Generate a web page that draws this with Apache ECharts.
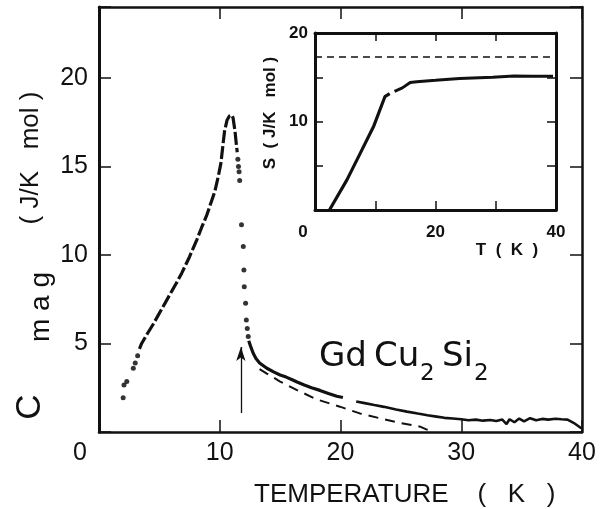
<!DOCTYPE html>
<html>
<head>
<meta charset="utf-8">
<script src="https://cdn.jsdelivr.net/npm/echarts@6/dist/echarts.min.js"></script>
<style>
  html, body { margin: 0; padding: 0; background: #fff; }
  #chart { width: 607px; height: 509px; }
</style>
</head>
<body>
<div id="chart"></div>
<script>
// Magnetic specific heat of GdCu2Si2 versus temperature, with the magnetic entropy in the inset.

// Main panel: C_mag (J/K mol) against T (K)
const lowTDots = [[2.0, 1.94], [2.07, 2.65], [2.3, 2.85], [2.84, 3.6], [3.0, 3.9], [3.2, 4.3]];
const risingBranch = [[3.35, 4.7], [3.53, 5.0], [4.0, 5.55], [4.5, 6.1], [5.2, 6.95], [5.9, 7.8], [6.4, 8.4],
  [6.85, 8.97], [7.5, 9.9], [8.1, 10.85], [8.5, 11.55], [8.9, 12.2], [9.3, 13.0], [9.6, 13.6], [9.9, 14.5],
  [10.1, 15.2], [10.28, 16.3], [10.4, 17.0], [10.6, 17.6], [10.8, 17.85], [10.98, 17.9], [11.1, 17.75],
  [11.26, 17.0], [11.38, 16.2], [11.45, 15.8]];
const transitionDots = [[11.5, 15.4], [11.55, 15.0], [11.6, 14.7], [11.65, 14.2], [11.8, 11.7], [11.95, 10.47],
  [12.0, 9.15], [12.03, 8.2], [12.14, 7.27], [12.2, 6.33], [12.28, 5.85], [12.36, 5.4]];
const tailLow = [[12.4, 5.15], [12.55, 4.85], [12.77, 4.45], [13.0, 4.15], [13.3, 3.9], [13.9, 3.6], [14.5, 3.38],
  [15.0, 3.22], [15.5, 3.1], [16.0, 2.95], [16.4, 2.82], [17.0, 2.65], [17.6, 2.5], [18.3, 2.35], [19.0, 2.18],
  [19.7, 2.02], [20.2, 1.95]];
const tailHigh = [[21.3, 1.72], [22.0, 1.63], [22.8, 1.52], [23.6, 1.42], [24.6, 1.27], [25.5, 1.15], [26.4, 1.04],
  [27.2, 0.95], [27.95, 0.87], [28.6, 0.8], [29.3, 0.76], [30.0, 0.72], [30.6, 0.66], [31.2, 0.7], [31.8, 0.64],
  [32.4, 0.68], [32.9, 0.62], [33.4, 0.7], [33.75, 0.45], [34.0, 0.72], [34.4, 0.55], [34.8, 0.76], [35.2, 0.6],
  [35.7, 0.78], [36.2, 0.66], [36.7, 0.74], [37.2, 0.7], [37.8, 0.75], [38.3, 0.72], [38.8, 0.7], [39.3, 0.52],
  [39.8, 0.28], [40.0, 0.2]];
// dashed curve under the paramagnetic tail
const tailEstimate = [[13.3, 3.55], [13.9, 3.3], [15.0, 2.85], [16.4, 2.37], [18.0, 1.85], [19.95, 1.43], [21.6, 1.05],
  [23.3, 0.77], [25.0, 0.5], [26.6, 0.3], [27.1, 0.15], [27.6, 0.05]];
// arrow marking the ordering temperature
const arrowT = 11.75;
const arrowFromC = 1.07;
const arrowToC = 4.8;

const mainXLabels = [0, 10, 20, 30, 40];
const mainYLabels = [5, 10, 15, 20];

// Inset: S (J/K mol) against T (K)
const entropyLow = [[2.4, 0], [5.3, 3.4], [7.5, 6.4], [9.7, 9.4], [11.6, 12.8], [12.4, 13.15]];
const entropyHigh = [[13.2, 13.4], [14.5, 13.8], [15.8, 14.4], [16.9, 14.5], [20.0, 14.65], [24.0, 14.85],
  [29.5, 15.0], [33.0, 15.15], [36.0, 15.1], [39.5, 15.1]];
const entropyLimit = [[0, 17.3], [40, 17.3]];
const insetXLabels = [0, 20, 40];
const insetYLabels = [10, 20];

const INK = '#111';
const FONT = 'Liberation Sans';

function frameAxis(extra) {
  return Object.assign({
    type: 'value',
    axisLine: { show: true, onZero: false, lineStyle: { color: INK, width: 2.5 } },
    axisTick: { show: true, inside: true, length: 12, lineStyle: { color: INK, width: 1.5 } },
    splitLine: { show: false },
    axisLabel: { show: false }
  }, extra);
}

const chart = echarts.init(document.getElementById('chart'), null, { renderer: 'canvas' });

chart.setOption({
  animation: false,
  backgroundColor: '#fff',
  grid: [
    { left: 99, right: 25, top: 7, bottom: 77 },
    { left: 315, right: 51, top: 33, bottom: 299 }
  ],
  xAxis: [
    frameAxis({
      gridIndex: 0, position: 'bottom', min: 0, max: 40, interval: 10,
      axisLabel: {
        show: true, margin: 9, color: INK, fontSize: 25, fontFamily: FONT,
        formatter: v => mainXLabels.includes(v) ? (v === 0 ? '{z|0}' : String(v)) : '',
        rich: { z: { fontSize: 25, fontFamily: FONT, color: INK, padding: [0, 38, 0, 0] } }
      }
    }),
    frameAxis({ gridIndex: 0, position: 'top', min: 0, max: 40, interval: 10 }),
    frameAxis({
      gridIndex: 1, position: 'bottom', min: 0, max: 40, interval: 10,
      axisLine: { show: true, onZero: false, lineStyle: { color: INK, width: 3 } },
      axisTick: { show: true, inside: true, length: 9, lineStyle: { color: INK, width: 1.5 } },
      axisLabel: {
        show: true, margin: 14, color: INK, fontSize: 17, fontWeight: 'bold', fontFamily: FONT,
        formatter: v => insetXLabels.includes(v) ? (v === 0 ? '{z|0}' : String(v)) : '',
        rich: { z: { fontSize: 17, fontWeight: 'bold', fontFamily: FONT, color: INK, padding: [0, 24, 0, 0] } }
      }
    }),
    frameAxis({
      gridIndex: 1, position: 'top', min: 0, max: 40, interval: 10,
      axisLine: { show: true, onZero: false, lineStyle: { color: INK, width: 3 } },
      axisTick: { show: true, inside: true, length: 8, lineStyle: { color: INK, width: 1.5 } }
    })
  ],
  yAxis: [
    frameAxis({
      gridIndex: 0, position: 'left', min: 0, max: 24, interval: 5,
      axisLine: { show: true, onZero: false, lineStyle: { color: INK, width: 3 } },
      axisLabel: {
        show: true, margin: 11, color: INK, fontSize: 25, fontFamily: FONT,
        formatter: v => mainYLabels.includes(v) ? String(v) : ''
      }
    }),
    frameAxis({ gridIndex: 0, position: 'right', min: 0, max: 24, interval: 5 }),
    frameAxis({
      gridIndex: 1, position: 'left', min: 0, max: 20, interval: 5,
      axisLine: { show: true, onZero: false, lineStyle: { color: INK, width: 3 } },
      axisTick: { show: true, inside: true, length: 8, lineStyle: { color: INK, width: 1.5 } },
      axisLabel: {
        show: true, margin: 7, color: INK, fontSize: 17, fontWeight: 'bold', fontFamily: FONT,
        formatter: v => insetYLabels.includes(v) ? String(v) : ''
      }
    }),
    frameAxis({
      gridIndex: 1, position: 'right', min: 0, max: 20, interval: 5,
      axisLine: { show: true, onZero: false, lineStyle: { color: INK, width: 3 } },
      axisTick: { show: true, inside: true, length: 9, lineStyle: { color: INK, width: 1.5 } }
    })
  ],
  series: [
    {
      type: 'scatter', xAxisIndex: 0, yAxisIndex: 0, data: lowTDots,
      symbol: 'circle', symbolSize: 5, itemStyle: { color: '#000' }, silent: true
    },
    {
      type: 'line', xAxisIndex: 0, yAxisIndex: 0, data: risingBranch, showSymbol: false, symbol: 'none',
      lineStyle: { color: INK, width: 3.2, type: [13, 3] }, silent: true
    },
    {
      type: 'scatter', xAxisIndex: 0, yAxisIndex: 0, data: transitionDots,
      symbol: 'circle', symbolSize: 5, itemStyle: { color: '#000' }, silent: true
    },
    {
      type: 'line', xAxisIndex: 0, yAxisIndex: 0, data: tailLow, showSymbol: false, symbol: 'none',
      lineStyle: { color: INK, width: 3.2 }, silent: true
    },
    {
      type: 'line', xAxisIndex: 0, yAxisIndex: 0, data: tailHigh, showSymbol: false, symbol: 'none',
      lineStyle: { color: INK, width: 2.6 }, silent: true
    },
    {
      type: 'line', xAxisIndex: 0, yAxisIndex: 0, data: tailEstimate, showSymbol: false, symbol: 'none',
      lineStyle: { color: INK, width: 2, type: [10, 7] }, silent: true,
      markLine: {
        silent: true, symbol: ['none', 'arrow'], symbolSize: [7, 14], animation: false,
        lineStyle: { color: INK, width: 1.3, type: 'solid' },
        label: { show: false },
        data: [[{ coord: [arrowT, arrowFromC] }, { coord: [arrowT, arrowToC] }]]
      }
    },
    {
      type: 'line', xAxisIndex: 2, yAxisIndex: 2, data: entropyLow, showSymbol: false, symbol: 'none',
      lineStyle: { color: INK, width: 3.2 }, silent: true
    },
    {
      type: 'line', xAxisIndex: 2, yAxisIndex: 2, data: entropyHigh, showSymbol: false, symbol: 'none',
      lineStyle: { color: INK, width: 3 }, silent: true
    },
    {
      type: 'line', xAxisIndex: 2, yAxisIndex: 2, data: entropyLimit, showSymbol: false, symbol: 'none',
      lineStyle: { color: INK, width: 1.5, type: [7, 5] }, silent: true
    }
  ],
  graphic: [
    // main axis titles
    { type: 'text', x: 30, y: 407, rotation: Math.PI / 2,
      style: { text: 'C', font: '35px "Liberation Sans"', fill: INK, align: 'center', verticalAlign: 'middle' } },
    { type: 'text', x: 41, y: 307, rotation: Math.PI / 2,
      style: { text: 'm a g', font: '28px "Liberation Sans"', fill: INK, align: 'center', verticalAlign: 'middle' } },
    { type: 'text', x: 31, y: 158, rotation: Math.PI / 2,
      style: { text: '( J/K   mol )', font: '26px "Liberation Sans"', fill: INK, align: 'center', verticalAlign: 'middle' } },
    { type: 'text', x: 254, y: 495,
      style: { text: 'TEMPERATURE    (   K   )', font: '26px "Liberation Sans"', fill: INK, align: 'left', verticalAlign: 'middle' } },
    // compound name
    { type: 'text', x: 319, y: 357,
      style: { text: 'Gd', font: '34px "DejaVu Sans"', fill: INK, align: 'left', verticalAlign: 'middle' } },
    { type: 'text', x: 374, y: 357,
      style: { text: 'Cu', font: '34px "DejaVu Sans"', fill: INK, align: 'left', verticalAlign: 'middle' } },
    { type: 'text', x: 420, y: 374,
      style: { text: '2', font: '23px "DejaVu Sans"', fill: INK, align: 'left', verticalAlign: 'middle' } },
    { type: 'text', x: 442, y: 357,
      style: { text: 'Si', font: '34px "DejaVu Sans"', fill: INK, align: 'left', verticalAlign: 'middle' } },
    { type: 'text', x: 474, y: 374,
      style: { text: '2', font: '23px "DejaVu Sans"', fill: INK, align: 'left', verticalAlign: 'middle' } },
    // inset axis titles
    { type: 'text', x: 270, y: 113, rotation: Math.PI / 2,
      style: { text: 'S  ( J/K   mol )', font: 'bold 17px "Liberation Sans"', fill: INK, align: 'center', verticalAlign: 'middle' } },
    { type: 'text', x: 507, y: 250,
      style: { text: 'T  (  K  )', font: 'bold 17px "Liberation Sans"', fill: INK, align: 'center', verticalAlign: 'middle' } }
  ]
});
</script>
</body>
</html>
